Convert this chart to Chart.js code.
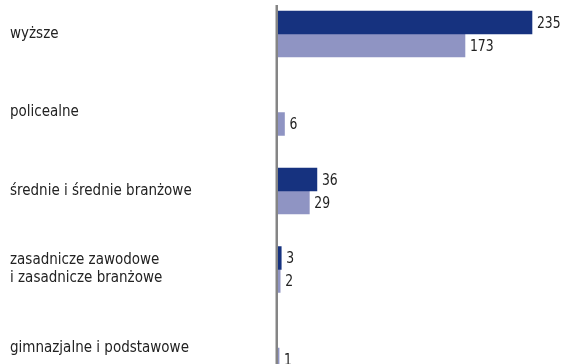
<!DOCTYPE html>
<html lang="pl">
<head>
<meta charset="utf-8">
<script src="https://cdn.jsdelivr.net/npm/chart.js@4"></script>
<style>
  html, body { margin: 0; padding: 0; background: #fff; overflow: hidden; }
  body { width: 561px; height: 364px; position: relative; }
  #wrap { position: absolute; left: 0; top: -30px; width: 561px; height: 445px; }
</style>
</head>
<body>
<div id="wrap"><canvas id="eduChart"></canvas></div>
<script>
const categories = [
  "wyższe",
  "policealne",
  "średnie i średnie branżowe",
  ["zasadnicze zawodowe", "i zasadnicze branżowe"],
  "gimnazjalne i podstawowe"
];
const darkValues = [235, null, 36, 3, null];
const lightValues = [173, 6, 29, 2, 1];

const labelFont = '"DejaVu Sans Condensed", "Liberation Sans", sans-serif';

// vertical axis line at zero, starting a little below the top edge
const zeroLine = {
  id: "zeroLine",
  beforeDatasetsDraw(chart) {
    const ctx = chart.ctx;
    const x = chart.scales.x.getPixelForValue(0) - 1.25;
    ctx.save();
    ctx.strokeStyle = "#858585";
    ctx.lineWidth = 2.5;
    ctx.beginPath();
    ctx.moveTo(x, 35);
    ctx.lineTo(x, chart.height);
    ctx.stroke();
    ctx.restore();
  }
};

// numbers to the right of each bar, drawn a bit narrower than the font
const barValues = {
  id: "barValues",
  afterDatasetsDraw(chart) {
    const ctx = chart.ctx;
    chart.data.datasets.forEach((ds, i) => {
      chart.getDatasetMeta(i).data.forEach((bar, j) => {
        const v = ds.data[j];
        if (v === null) return;
        ctx.save();
        ctx.translate(bar.x + 5, bar.y + 1);
        ctx.scale(0.86, 1);
        ctx.font = "16px " + labelFont;
        ctx.fillStyle = "#222";
        ctx.textAlign = "left";
        ctx.textBaseline = "middle";
        ctx.fillText(String(v), 0, 0);
        ctx.restore();
      });
    });
  }
};

new Chart(document.getElementById("eduChart"), {
  type: "bar",
  data: {
    labels: categories,
    datasets: [
      { data: darkValues, backgroundColor: "#16327f", barThickness: 23 },
      { data: lightValues, backgroundColor: "#8f94c3", barThickness: 23 }
    ]
  },
  options: {
    indexAxis: "y",
    responsive: true,
    maintainAspectRatio: false,
    animation: false,
    layout: { padding: { top: 24.75, bottom: 27.75, left: 10, right: 2 } },
    plugins: { legend: { display: false }, tooltip: { enabled: false } },
    scales: {
      x: { display: false, min: 0, max: 260 },
      y: {
        offset: true,
        grid: { display: false },
        border: { display: false },
        afterFit(scale) { scale.width = 268; },
        ticks: {
          crossAlign: "far",
          padding: 0,
          color: "#222",
          font: { family: labelFont, size: 15 }
        }
      }
    }
  },
  plugins: [zeroLine, barValues]
});
</script>
</body>
</html>
